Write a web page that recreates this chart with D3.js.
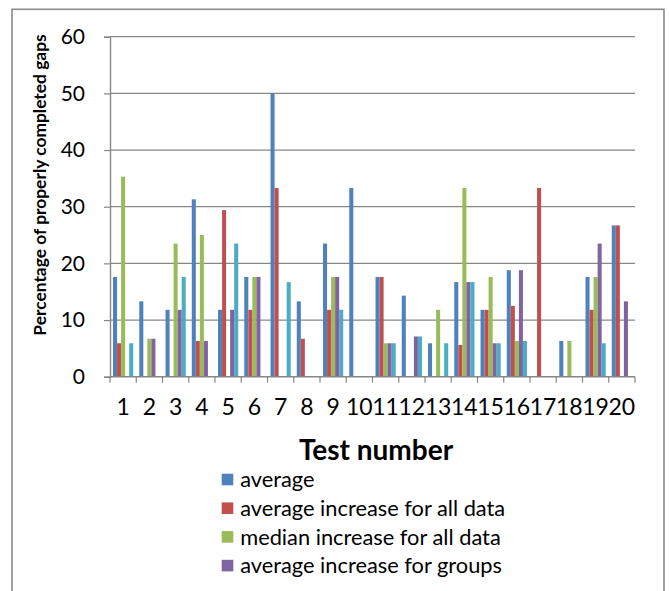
<!DOCTYPE html>
<html>
<head>
<meta charset="utf-8">
<script src="https://cdn.jsdelivr.net/npm/d3@7"></script>
<style>
  html, body { margin: 0; padding: 0; background: #fff; }
  svg { display: block; }
  text { font-family: Lato, "Open Sans", sans-serif; fill: #000; }
</style>
</head>
<body>
<div id="chart"></div>
<script>
// Test numbers on the category axis
const tests = ["1","2","3","4","5","6","7","8","9","10","11","12","13","14","15","16","17","18","19","20"];

// Series names, in drawing order
const seriesNames = [
  "average",
  "average increase for all data",
  "median increase for all data",
  "average increase for groups",
  "median increase for groups"
];

// Percentage of properly completed gaps, per test
const average           = [17.6, 13.3, 11.8, 31.3, 11.8, 17.6, 50.0, 13.3, 23.5, 33.3, 17.6, 14.3, 5.9, 16.7, 11.8, 18.8, 0, 6.3, 17.6, 26.7];
const avgIncreaseAll    = [5.9, 0, 0, 6.3, 29.4, 11.8, 33.3, 6.7, 11.8, 0, 17.6, 0, 0, 5.6, 11.8, 12.5, 33.3, 0, 11.8, 26.7];
const medianIncreaseAll = [35.3, 6.7, 23.5, 25.0, 0, 17.6, 0, 0, 17.6, 0, 5.9, 0, 11.8, 33.3, 17.6, 6.3, 0, 6.3, 17.6, 0];
const avgIncreaseGroups = [0, 6.7, 11.8, 6.3, 11.8, 17.6, 0, 0, 17.6, 0, 5.9, 7.1, 0, 16.7, 5.9, 18.8, 0, 0, 23.5, 13.3];
const medIncreaseGroups = [5.9, 0, 17.6, 0, 23.5, 0, 16.7, 0, 11.8, 0, 5.9, 7.1, 5.9, 16.7, 5.9, 6.3, 0, 0, 5.9, 0];

// Value axis ticks
const yTicks = [0, 10, 20, 30, 40, 50, 60];

const seriesValues = [average, avgIncreaseAll, medianIncreaseAll, avgIncreaseGroups, medIncreaseGroups];
const colors = ["#4F81BD", "#C0504D", "#9BBB59", "#8064A2", "#4BACC6"];

const W = 670, H = 591;
const plot = { left: 110, right: 635, top: 36.7, bottom: 376.7 };

const svg = d3.select("#chart").append("svg")
  .attr("width", W).attr("height", H);

// Chart frame
svg.append("rect")
  .attr("x", 12).attr("y", 9.3)
  .attr("width", 652).attr("height", 700)
  .attr("fill", "none").attr("stroke", "#8a8a8a").attr("stroke-width", 1.6);

const x0 = d3.scaleBand().domain(tests).range([plot.left, plot.right]).paddingInner(0).paddingOuter(0);
// gap width 150% of one bar: 0.75 bar on each side of the cluster
const nS = seriesNames.length;
const inner = 0.75 / (nS + 1.5);
const x1 = d3.scaleBand().domain(d3.range(nS))
  .range([x0.bandwidth() * inner, x0.bandwidth() * (1 - inner)]).padding(0);
const y = d3.scaleLinear().domain([0, 60]).range([plot.bottom, plot.top]);

const gridColor = "#878787";

// Horizontal gridlines
svg.append("g").selectAll("line").data(yTicks.filter(d => d > 0)).join("line")
  .attr("x1", plot.left).attr("x2", plot.right)
  .attr("y1", d => y(d)).attr("y2", d => y(d))
  .attr("stroke", gridColor).attr("stroke-width", 1.2);

// Bars
const groups = svg.append("g").selectAll("g").data(tests).join("g")
  .attr("transform", d => `translate(${x0(d)},0)`);
groups.selectAll("rect")
  .data((d, i) => seriesValues.map((vals, s) => ({ s, v: vals[i] })))
  .join("rect")
  .filter(d => d.v > 0)
  .attr("x", d => x1(d.s))
  .attr("width", x1.bandwidth())
  .attr("y", d => y(d.v))
  .attr("height", d => y(0) - y(d.v))
  .attr("fill", d => colors[d.s]);

// Value axis
const yAxis = svg.append("g")
  .attr("transform", `translate(${plot.left},0)`)
  .call(d3.axisLeft(y).tickValues(yTicks).tickSize(6).tickPadding(19).tickFormat(d3.format("d")));
yAxis.select(".domain").attr("stroke", gridColor).attr("stroke-width", 1.4);
yAxis.selectAll(".tick line").attr("stroke", gridColor).attr("stroke-width", 1.2);
yAxis.selectAll(".tick text").style("font-size", "21px").style("font-family", "Lato, sans-serif").attr("fill", "#000");

// Category axis
const xAxis = svg.append("g")
  .attr("transform", `translate(0,${plot.bottom})`)
  .call(d3.axisBottom(x0).tickSize(0).tickPadding(22));
xAxis.select(".domain").remove();
xAxis.selectAll(".tick text").style("font-size", "23px").style("font-family", "Lato, sans-serif").attr("fill", "#000");
svg.append("line")
  .attr("x1", plot.left).attr("x2", plot.right)
  .attr("y1", plot.bottom).attr("y2", plot.bottom)
  .attr("stroke", gridColor).attr("stroke-width", 1.4);
// tick marks on category boundaries
svg.append("g").selectAll("line").data(tests.concat(["end"])).join("line")
  .attr("x1", (d, i) => plot.left + i * x0.step())
  .attr("x2", (d, i) => plot.left + i * x0.step())
  .attr("y1", plot.bottom).attr("y2", plot.bottom + 6)
  .attr("stroke", gridColor).attr("stroke-width", 1.2);

// Axis titles
svg.append("text")
  .attr("transform", "translate(46,185) rotate(-90)")
  .attr("text-anchor", "middle")
  .style("font-size", "17.4px").style("font-weight", "bold")
  .text("Percentage of properly completed gaps");

svg.append("text")
  .attr("x", 376).attr("y", 460)
  .attr("text-anchor", "middle")
  .style("font-size", "28px").style("font-weight", "bold")
  .text("Test number");

// Legend: entries that do not fit inside the frame are left out
const legendTop = 479.5, legendStep = 28.7;
const legendItems = seriesNames.map((name, i) => ({ name, i, cy: legendTop + i * legendStep }))
  .filter(d => d.cy + 8 < H);
const legend = svg.append("g").selectAll("g").data(legendItems).join("g")
  .attr("transform", d => `translate(221.7,${d.cy})`);
legend.append("rect")
  .attr("x", 0).attr("y", -5.8).attr("width", 11.6).attr("height", 11.6)
  .attr("fill", d => colors[d.i]);
legend.append("text")
  .attr("x", 18.5).attr("dy", "0.35em")
  .style("font-size", "21.8px")
  .text(d => d.name);
</script>
</body>
</html>
